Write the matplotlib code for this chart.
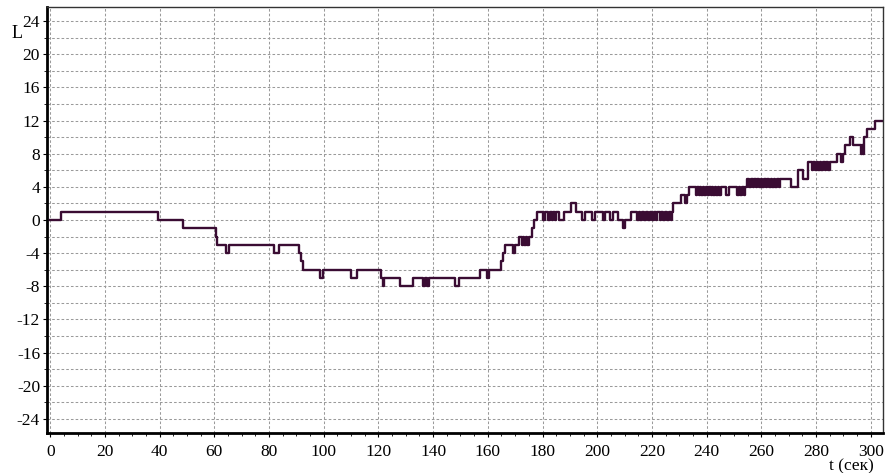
import numpy as np
import matplotlib
matplotlib.use("Agg")
import matplotlib.pyplot as plt

plt.rcParams['font.family'] = ['Liberation Serif', 'DejaVu Serif']
plt.rcParams['axes.unicode_minus'] = False

# step start times (s) and level L
t_sec = [0, 3.8, 39.5, 48.6, 60.5, 61.1, 64.1, 65.3, 81.8, 83.7, 91.0, 91.6, 92.5, 98.6, 99.8,
         110.0, 112.2, 120.8, 121.5, 122.2, 127.9, 132.5, 136.4, 137.0, 137.8, 138.6, 148.0, 149.4,
         157.1, 159.6, 160.5,
         165.0, 165.5, 166.2, 169.3, 169.9, 171.5, 172.4, 172.9, 173.4, 173.9, 174.4, 174.9, 176.0,
         176.9, 178.0,
         180.2, 180.9, 181.9, 182.6, 183.4, 183.9, 184.4, 185.0, 186.2, 188.0, 190.5, 192.4, 194.4,
         195.6, 198.0, 199.3, 202.2, 203.0, 204.6, 205.9, 207.7, 209.4, 210.2, 212.4,
         214.6, 215.2, 215.8, 216.4, 217.2, 217.8, 218.6, 219.2, 220.0, 220.6, 221.4, 222.0, 222.8,
         223.4, 224.2, 224.8, 225.6, 226.2, 227.0, 227.4,
         227.8, 230.8, 232.0, 232.8, 233.6,
         236.1, 236.6, 237.1, 237.5, 238.0, 238.6, 239.2, 239.8, 240.4, 241.0, 241.6, 242.0, 242.4,
         243.0, 243.6, 244.0, 244.6, 245.2, 247.0, 248.2, 251.2, 251.8, 252.4, 253.0, 253.6, 254.0,
         254.6,
         255.6, 256.2, 256.8, 257.4, 258.0, 258.6, 259.2, 259.8, 260.4, 261.0, 261.6, 262.2, 262.8,
         263.4, 264.0, 264.6, 265.2, 265.8, 266.4, 266.8,
         271.0, 273.3, 275.4, 277.0,
         278.4, 279.0, 279.6, 280.2, 280.8, 281.4, 282.0, 282.6, 283.2, 283.8, 284.4, 285.0,
         287.6, 289.3, 290.0, 290.6, 292.4, 293.4, 296.3, 296.8, 297.2, 297.6, 298.7, 301.6, 304.5]
level = [0, 1, 0, -1, -2, -3, -4, -3, -4, -3, -4, -5, -6, -7, -6,
         -7, -6, -7, -8, -7, -8, -7, -8, -7, -8, -7, -8, -7,
         -6, -7, -6,
         -5, -4, -3, -4, -3, -2, -3, -2, -3, -2, -3, -2, -1,
         0, 1,
         0, 1, 0, 1, 0, 1, 0, 1, 0, 1, 2, 1, 0,
         1, 0, 1, 0, 1, 0, 1, 0, -1, 0, 1,
         0, 1, 0, 1, 0, 1, 0, 1, 0, 1, 0, 1, 0,
         1, 0, 1, 0, 1, 0, 1,
         2, 3, 2, 3, 4,
         3, 4, 3, 4, 3, 4, 3, 4, 3, 4, 3, 4, 3,
         4, 3, 4, 3, 4, 3, 4, 3, 4, 3, 4, 3, 4,
         5,
         4, 5, 4, 5, 4, 5, 4, 5, 4, 5, 4, 5, 4,
         5, 4, 5, 4, 5, 4, 5,
         4, 6, 5, 7,
         6, 7, 6, 7, 6, 7, 6, 7, 6, 7, 6, 7,
         8, 7, 8, 9, 10, 9, 8, 9, 8, 10, 11, 12, 12]

x_major = np.arange(0, 301, 20)
y_major = np.arange(-24, 25, 4)

fig = plt.figure(figsize=(8.85, 4.73), dpi=100)
ax = fig.add_axes([0.0531, 0.0846, 0.9446, 0.9006])

ax.step(t_sec, level, where='post', color='#3a0c33', linewidth=1.7)

ax.set_xlim(-1.2, 304.5)
ax.set_ylim(-25.7, 25.7)
ax.set_xticks(x_major)
ax.set_xticks(np.arange(0, 305, 5), minor=True)
ax.set_yticks(y_major)
ax.set_yticks(np.arange(-24, 25, 2), minor=True)

grid_kw = dict(color='#9a9a9a', linestyle=(0, (2.5, 2)), linewidth=0.75)
ax.grid(which='major', axis='x', **grid_kw)
ax.grid(which='both', axis='y', **grid_kw)
ax.set_axisbelow(True)

ax.tick_params(which='major', direction='out', length=3, width=0.8, labelsize=12.5, pad=2)
ax.tick_params(axis='x', which='major', pad=5)
ax.tick_params(which='minor', direction='out', length=2, width=0.6)

for s in ['left', 'bottom']:
    ax.spines[s].set_linewidth(2)
    ax.spines[s].set_color('black')
for s in ['top', 'right']:
    ax.spines[s].set_linewidth(1)
    ax.spines[s].set_color('#333333')

fig.text(17 / 885, 1 - 34 / 473, 'L', fontsize=13, ha='center', va='center')
fig.text(851 / 885, 1 - 466 / 473, 't (сек)', fontsize=12.5, ha='center', va='center')

fig.savefig('out.png', dpi=100)
